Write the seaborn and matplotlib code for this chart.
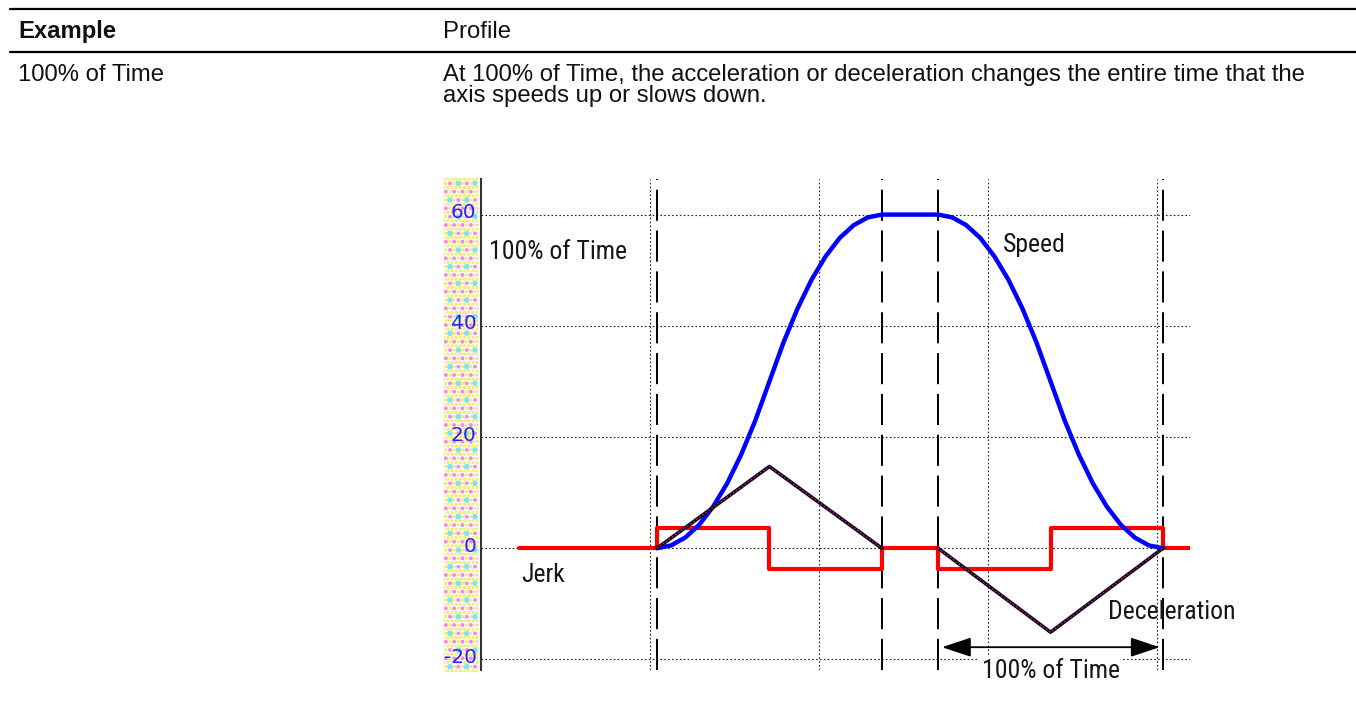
import matplotlib
matplotlib.use("Agg")
import matplotlib.pyplot as plt
import matplotlib.transforms as mtransforms
from matplotlib import font_manager as fm
from matplotlib.patches import Rectangle
from matplotlib.lines import Line2D
import pandas as pd
import seaborn as sns

# ---- profile data (time in motion units, values in chart units) ----
speed_t = [0.0, 0.25, 0.5, 0.75, 1.0, 1.25, 1.5, 1.75, 2.0, 2.25, 2.5, 2.75, 3.0,
           3.25, 3.5, 3.75, 4.0, 5.0, 5.25, 5.5, 5.75, 6.0, 6.25, 6.5, 6.75, 7.0,
           7.25, 7.5, 7.75, 8.0, 8.25, 8.5, 8.75, 9.0]
speed_v = [0.0, 0.5, 1.9, 4.2, 7.5, 11.7, 16.9, 23.0, 30.0, 37.0, 43.1, 48.3, 52.5,
           55.8, 58.1, 59.5, 60.0, 60.0, 59.5, 58.1, 55.8, 52.5, 48.3, 43.1, 37.0, 30.0,
           23.0, 16.9, 11.7, 7.5, 4.2, 1.9, 0.5, 0.0]

accel_t = [0.0, 2.0, 4.0, 5.0, 7.0, 9.0]
accel_v = [0.0, 14.7, 0.0, 0.0, -15.1, 0.0]
accel_seg = ["acceleration", "acceleration", "acceleration",
             "deceleration", "deceleration", "deceleration"]

jerk_t = [-2.45, 0.0, 2.0, 4.0, 5.0, 7.0, 9.0, 9.48]
jerk_v = [0.0, 3.7, -3.7, 0.0, -3.7, 3.7, 0.0, 0.0]

phase_t = [0.0, 4.0, 5.0, 9.0]          # dashed phase boundaries
grid_t = [-0.13, 2.88, 5.89, 8.9]       # dotted vertical grid
y_ticks = [-20, 0, 20, 40, 60]
y_tick_labels = ["-20", "0", "20", "40", "60"]

sns.set_theme(style="white")
plt.rcParams["font.family"] = ["Liberation Sans", "DejaVu Sans"]
plt.rcParams["hatch.linewidth"] = 1.6


def narrow_font():
    """Pick an installed condensed sans face for the in-chart captions."""
    fonts = fm.fontManager.ttflist
    names = {f.name for f in fonts}
    for name in ("Liberation Sans Narrow", "Roboto Condensed", "Arial Narrow",
                 "Noto Sans Condensed", "DejaVu Sans Condensed", "Open Sans Condensed"):
        if name in names:
            return dict(family=name, fontstretch="normal", size=18.5)
    for f in fonts:
        if f.stretch in ("condensed", "semi-condensed") and f.style == "normal" \
                and f.weight in (400, "normal", "regular"):
            return dict(family=f.name, fontstretch=f.stretch, size=18.5)
    return dict(family="Liberation Sans", fontstretch="normal", size=15.8)


W, H = 1356, 725
fig = plt.figure(figsize=(W / 100, H / 100), dpi=100)

# ---- table header ----
for yy in (8.5, 51.5):
    fig.add_artist(Line2D([10 / W, 1.0], [1 - yy / H] * 2, color="black", lw=1.6))
txt = dict(size=17.2, color="#111111", va="baseline")
fig.text(18 / W, 1 - 38 / H, "Example", weight="bold", **txt)
fig.text(443 / W, 1 - 38 / H, "Profile", **txt)
fig.text(18 / W, 1 - 81 / H, "100% of Time", **txt)
fig.text(443 / W, 1 - 81 / H,
         "At 100% of Time, the acceleration or deceleration changes the entire time that the", **txt)
fig.text(443 / W, 1 - 102 / H, "axis speeds up or slows down.", **txt)

# ---- speckled strip behind the value labels ----
strip = [444 / W, 1 - 672 / H, 34 / W, (672 - 178) / H]
fig.add_artist(Rectangle(strip[:2], strip[2], strip[3], facecolor="white", lw=0, zorder=-3))
for hatch, col in (("....", "#f2e34c"), ("..", "#f48ae6"), (".", "#7fe3f2")):
    fig.add_artist(Rectangle(strip[:2], strip[2], strip[3], facecolor="none",
                             edgecolor=col, hatch=hatch, lw=0, zorder=-2))

# ---- chart ----
ax = fig.add_axes([481 / W, 1 - 670 / H, (1190 - 481) / W, (670 - 179) / H])
ax.set_facecolor("none")
ax.set_xlim(-3.13, 9.48)
ax.set_ylim(-21.9, 66.4)

ax.set_xticks(grid_t)
ax.set_yticks(y_ticks)
ax.set_yticklabels(y_tick_labels, color="#2424ff", fontsize=14.5, family="DejaVu Sans")
ax.tick_params(axis="x", length=0, labelbottom=False)
ax.tick_params(axis="y", length=0, pad=3.2)
shift = mtransforms.ScaledTranslation(0, 4 / 100, fig.dpi_scale_trans)
for lab in ax.get_yticklabels():
    lab.set_transform(lab.get_transform() + shift)
ax.grid(True, color="#222222", lw=0.8, ls=(0, (1.5, 2)))
ax.set_axisbelow(True)

for s in ("top", "right", "bottom"):
    ax.spines[s].set_visible(False)
ax.spines["left"].set_color("#333333")
ax.spines["left"].set_linewidth(1.5)

for t in phase_t:
    ax.axvline(t, color="black", lw=1.4, dashes=(16, 5), zorder=1)

sns.lineplot(x=jerk_t, y=jerk_v, drawstyle="steps-post", color="#ff0000",
             lw=3.0, ax=ax, zorder=2)
sns.lineplot(x=speed_t, y=speed_v, color="#0000ff", lw=3.2, ax=ax, zorder=3)

accel_df = pd.DataFrame({"t": accel_t, "v": accel_v, "seg": accel_seg})
sns.lineplot(data=accel_df, x="t", y="v", units="seg", estimator=None,
             color="#140814", lw=2.6, ax=ax, zorder=4)
sns.lineplot(data=accel_df, x="t", y="v", units="seg", estimator=None,
             color="#d020d0", lw=0.9, ax=ax, zorder=5, linestyle=(0, (1, 2)))
ax.set_xlabel("")
ax.set_ylabel("")

# ---- captions inside the chart ----
lab = dict(color="#161616", va="center", **narrow_font())
ax.text(-2.99, 53.2, "100% of Time", ha="left", **lab)
ax.text(6.15, 54.5, "Speed", ha="left", **lab)
ax.text(-2.42, -4.9, "Jerk", ha="left", **lab)
ax.text(8.02, -11.5, "Deceleration", ha="left", **lab)

ax.annotate("", xy=(phase_t[2] + 0.07, -17.8), xytext=(phase_t[3] - 0.06, -17.8),
            arrowprops=dict(arrowstyle="<|-|>,head_length=1.8,head_width=0.6",
                            mutation_scale=10, color="black", lw=1.3,
                            shrinkA=0, shrinkB=0), zorder=6)
ax.text((phase_t[2] + phase_t[3]) / 2, -22.1, "100% of Time", ha="center",
        bbox=dict(fc="white", ec="none", pad=2), zorder=6, **lab)

fig.savefig("out.png", dpi=100)
